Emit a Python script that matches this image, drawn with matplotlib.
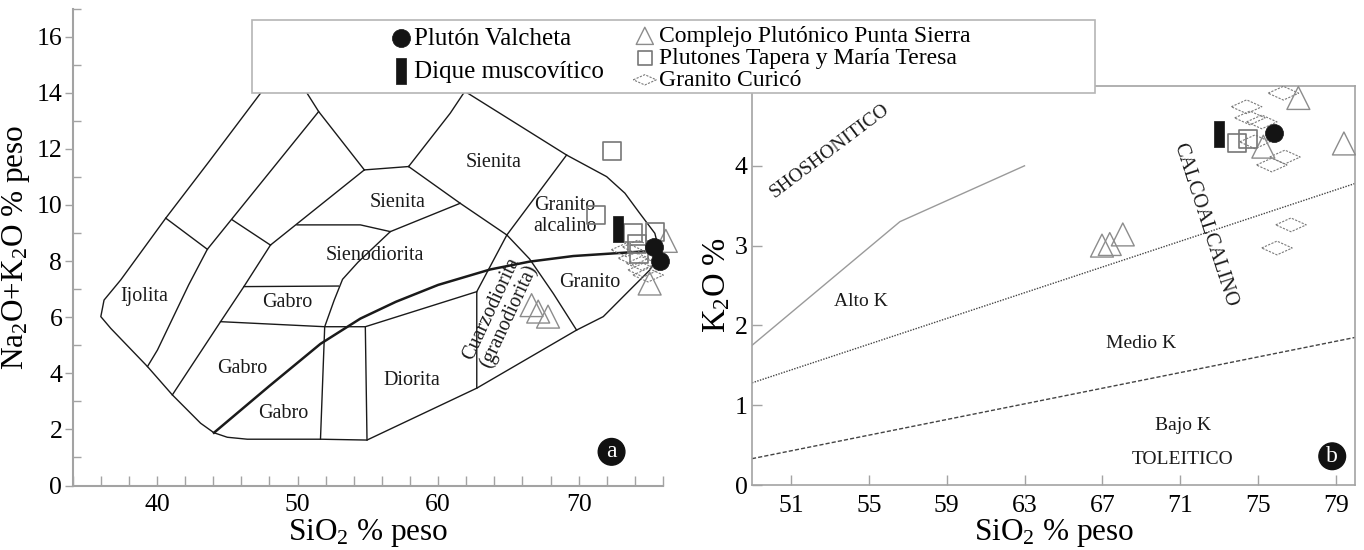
import numpy as np
import matplotlib
matplotlib.use('Agg')
import matplotlib.pyplot as plt
from matplotlib.patches import Rectangle
from matplotlib.ticker import MultipleLocator, FixedLocator

plt.rcParams['font.family'] = ['Liberation Serif', 'DejaVu Serif']
plt.rcParams['mathtext.fontset'] = 'custom'
plt.rcParams['mathtext.rm'] = 'Liberation Serif'
plt.rcParams['mathtext.it'] = 'Liberation Serif:italic'

# ---------------------------------------------------------------------------
# TAS diagram (a): field boundaries, SiO2 vs Na2O+K2O
# ---------------------------------------------------------------------------
tas_outer = [(47.9, 14.4), (47.36, 13.98), (43.69, 11.54), (40.62, 9.53), (37.42, 7.33),
             (36.23, 6.61), (36.0, 6.02), (36.71, 5.60), (39.32, 4.24), (41.09, 3.23),
             (43.10, 2.22), (44.05, 1.88), (45.0, 1.72), (46.42, 1.65), (51.63, 1.65),
             (54.94, 1.62), (62.75, 3.47), (69.85, 5.54), (71.75, 6.02), (73.88, 7.09),
             (75.06, 7.68), (75.77, 8.29), (75.42, 8.99), (74.35, 9.70), (73.29, 10.42),
             (71.99, 11.01), (69.14, 11.78), (61.9, 14.05)]
tas_lines = [
    [(40.62, 9.53), (43.58, 8.42)],
    [(50.4, 14.4), (50.68, 13.98), (51.5, 13.33), (43.58, 8.42), (42.25, 7.15),
     (40.03, 4.83), (39.32, 4.24)],
    [(51.5, 13.33), (54.75, 11.25)],
    [(54.75, 11.25), (57.9, 11.37)],
    [(57.9, 11.37), (60.86, 13.27), (61.9, 14.05)],
    [(54.75, 11.25), (48.07, 8.57)],
    [(45.35, 9.47), (48.07, 8.57)],
    [(48.07, 8.57), (46.18, 7.09), (44.52, 5.84), (41.09, 3.23)],
    [(46.18, 7.09), (52.9, 7.11)],
    [(49.96, 9.29), (54.47, 9.29), (56.6, 9.05), (61.57, 10.06)],
    [(57.9, 11.37), (61.57, 10.06), (64.89, 8.93)],
    [(56.6, 9.05), (54.3, 7.96), (53.2, 7.35), (52.6, 6.6), (51.93, 5.66), (51.63, 1.65)],
    [(44.52, 5.84), (51.93, 5.66), (54.82, 5.66), (62.75, 6.91)],
    [(54.82, 5.66), (54.94, 1.62)],
    [(64.89, 8.93), (62.75, 6.91), (62.75, 3.47)],
    [(69.14, 11.78), (64.89, 8.93)],
    [(64.89, 8.93), (66.5, 8.08), (68.2, 6.84), (69.85, 5.54)],
]
tas_divide = [(44.05, 1.88), (48.0, 3.55), (51.63, 5.05), (54.47, 5.95), (57.0, 6.55),
              (60.0, 7.15), (63.7, 7.7), (66.5, 7.98), (69.62, 8.18), (73.88, 8.32),
              (75.3, 8.36)]

tas_fields = ['Ijolita', 'Gabro', 'Sienodiorita', 'Sienita', 'Sienita', 'Granito\nalcalino',
              'Granito', 'Gabro', 'Gabro', 'Diorita']
tas_field_x = [39.1, 49.3, 55.5, 57.1, 63.95, 69.0, 70.8, 46.05, 48.95, 58.15]
tas_field_y = [6.72, 6.53, 8.21, 10.1, 11.5, 9.6, 7.24, 4.17, 2.55, 3.73]

# samples, diagram (a)
a_valcheta_x = [75.35, 75.82]
a_valcheta_y = [8.51, 8.0]
a_dique_x = [72.8]
a_dique_y = [9.15]
a_sierra_x = [66.65, 67.12, 67.82, 75.05, 76.2]
a_sierra_y = [6.43, 6.20, 6.02, 7.20, 8.72]
a_tapera_x = [72.34, 71.23, 73.88, 75.4, 74.16, 74.3]
a_tapera_y = [11.94, 9.64, 8.99, 9.05, 8.6, 8.25]
a_curico_x = [73.4, 73.9, 74.47, 74.59, 74.94, 74.2]
a_curico_y = [8.4, 8.1, 7.92, 7.68, 7.5, 8.5]

# ---------------------------------------------------------------------------
# K2O vs SiO2 diagram (b)
# ---------------------------------------------------------------------------
shosho_line_x = [49, 56.6, 63]
shosho_line_y = [1.75, 3.3, 4.0]
altok_line_x = [49, 80]
altok_line_y = [1.28, 3.78]
bajok_line_x = [49, 80]
bajok_line_y = [0.33, 1.85]

b_valcheta_x = [75.82]
b_valcheta_y = [4.41]
b_dique_x = [72.99]
b_dique_y = [4.40]
b_sierra_x = [66.98, 67.38, 68.05, 75.27, 77.07, 79.41]
b_sierra_y = [3.0, 3.02, 3.14, 4.24, 4.85, 4.28]
b_tapera_x = [73.9, 74.47]
b_tapera_y = [4.28, 4.33]
b_curico_x = [76.3, 74.41, 74.58, 75.19, 74.84, 76.38, 75.70, 76.69, 75.97]
b_curico_y = [4.91, 4.74, 4.60, 4.55, 4.30, 4.11, 4.01, 3.26, 2.97]

b_texts = ['Alto K', 'Medio K', 'Bajo K', 'TOLEITICO']
b_text_x = [54.6, 69.0, 71.13, 71.13]
b_text_y = [2.30, 1.77, 0.74, 0.32]

# marker shapes
bar_marker = [(-0.385, -1), (0.385, -1), (0.385, 1), (-0.385, 1), (-0.385, -1)]
diamond_marker = [(-1, 0), (0, 0.45), (1, 0), (0, -0.45), (-1, 0)]

W, H = 1364, 550
fig = plt.figure(figsize=(W / 100, H / 100), dpi=100)
fig.patch.set_facecolor('white')

spine_col = '#a3a3a3'
line_col = '#1a1a1a'


def draw_samples(ax, sets):
    hs = {}
    vx, vy, dx, dy, sx, sy, tx, ty, cx, cy = sets
    hs['c'] = ax.scatter(cx, cy, s=22 ** 2, marker=diamond_marker, facecolors='none',
                         edgecolors='#7a7a7a', linewidths=0.8, linestyles=(0, (2, 1.2)),
                         zorder=5, clip_on=False, label='Granito Curicó')
    hs['s'] = ax.scatter(sx, sy, s=16.5 ** 2, marker='^', facecolors='none',
                         edgecolors='#8c8c8c', linewidths=1.0, zorder=6, clip_on=False,
                         label='Complejo Plutónico Punta Sierra')
    hs['t'] = ax.scatter(tx, ty, s=13 ** 2, marker='s', facecolors='none',
                         edgecolors='#777777', linewidths=1.2, zorder=6, clip_on=False,
                         label='Plutones Tapera y María Teresa')
    hs['d'] = ax.scatter(dx, dy, s=19 ** 2, marker=bar_marker, facecolors='#141414',
                         edgecolors='#141414', linewidths=0.5, zorder=7, clip_on=False,
                         label='Dique muscovítico')
    hs['v'] = ax.scatter(vx, vy, s=13 ** 2, marker='o', facecolors='#141414',
                         edgecolors='#141414', linewidths=0.5, zorder=8, clip_on=False,
                         label='Plutón Valcheta')
    return hs


# ---------------------------- panel (a) ------------------------------------
ax1 = fig.add_axes([72.7 / W, (H - 485.5) / H, (663 - 72.7) / W, (485.5 - 8.6) / H])
ax1.set_xlim(34, 76)
ax1.set_ylim(0, 17)

ox, oy = zip(*tas_outer)
ax1.plot(ox, oy, color=line_col, lw=1.0, solid_joinstyle='round')
for seg in tas_lines:
    sx_, sy_ = zip(*seg)
    ax1.plot(sx_, sy_, color=line_col, lw=1.0)
dvx, dvy = zip(*tas_divide)
ax1.plot(dvx, dvy, color=line_col, lw=1.8, solid_joinstyle='round')

for name, x, y in zip(tas_fields, tas_field_x, tas_field_y):
    ax1.text(x, y, name, fontsize=14.5, ha='center', va='center', color='#1a1a1a',
             linespacing=1.15, zorder=3)
ax1.text(64.42, 6.16, 'Cuarzodiorita\n(granodiorita)', fontsize=14.5, rotation=65,
         ha='center', va='center', rotation_mode='anchor', linespacing=0.95,
         color='#1a1a1a', zorder=3)
ax1.text(72.34, 1.2, 'a', fontsize=17, color='white', ha='center', va='center',
         bbox=dict(boxstyle='circle,pad=0.12', fc='#111111', ec='#111111'))

draw_samples(ax1, (a_valcheta_x, a_valcheta_y, a_dique_x, a_dique_y, a_sierra_x,
                   a_sierra_y, a_tapera_x, a_tapera_y, a_curico_x, a_curico_y))

for side in ['top', 'right']:
    ax1.spines[side].set_visible(False)
for side in ['left', 'bottom']:
    ax1.spines[side].set_color(spine_col)
    ax1.spines[side].set_linewidth(1.5)
ax1.xaxis.set_major_locator(FixedLocator([40, 50, 60, 70]))
ax1.xaxis.set_minor_locator(MultipleLocator(2))
ax1.yaxis.set_minor_locator(MultipleLocator(1))
ax1.set_yticks(range(0, 17, 2))
ax1.tick_params(axis='x', which='both', direction='in', length=7.5, width=1.0,
                color=spine_col, labelsize=18.5, pad=6)
ax1.tick_params(axis='y', which='major', direction='out', length=6, width=1.0,
                color=spine_col, labelsize=18.5, pad=1.5)
ax1.tick_params(axis='y', which='minor', direction='in', length=6, width=1.0,
                color=spine_col)
ax1.set_xlabel('SiO$_2$ % peso', fontsize=22.5, labelpad=1)
ax1.set_ylabel('Na$_2$O+K$_2$O % peso', fontsize=22.5, labelpad=3)

# ---------------------------- panel (b) ------------------------------------
ax2 = fig.add_axes([752 / W, (H - 485) / H, (1355.4 - 752) / W, (485 - 86) / H])
ax2.set_xlim(49, 80)
ax2.set_ylim(0, 5)

ax2.plot(shosho_line_x, shosho_line_y, color='#9a9a9a', lw=1.0)
ax2.plot(altok_line_x, altok_line_y, color='#444444', lw=1.0, ls=(0, (1, 1)))
ax2.plot(bajok_line_x, bajok_line_y, color='#444444', lw=1.0, ls=(0, (3, 1.5)))

for name, x, y in zip(b_texts, b_text_x, b_text_y):
    ax2.text(x, y, name, fontsize=14, ha='center', va='center', color='#1a1a1a')
ax2.text(52.97, 4.19, 'SHOSHONITICO', fontsize=14, rotation=37, ha='center',
         va='center', rotation_mode='anchor', color='#1a1a1a')
ax2.text(72.26, 3.26, 'CALCOALCALINO', fontsize=14.5, rotation=-72, ha='center',
         va='center', rotation_mode='anchor', color='#1a1a1a')
ax2.text(78.81, 0.36, 'b', fontsize=17, color='white', ha='center', va='center',
         bbox=dict(boxstyle='circle,pad=0.12', fc='#111111', ec='#111111'))

hs = draw_samples(ax2, (b_valcheta_x, b_valcheta_y, b_dique_x, b_dique_y, b_sierra_x,
                        b_sierra_y, b_tapera_x, b_tapera_y, b_curico_x, b_curico_y))

for side in ax2.spines:
    ax2.spines[side].set_color(spine_col)
    ax2.spines[side].set_linewidth(1.2)
ax2.set_xticks(range(51, 80, 4))
ax2.set_yticks(range(0, 5))
ax2.tick_params(axis='both', which='major', direction='in', length=7, width=1.0,
                color=spine_col, labelsize=18.5)
ax2.tick_params(axis='x', pad=7)
ax2.tick_params(axis='y', pad=3)
ax2.set_xlabel('SiO$_2$ % peso', fontsize=22.5, labelpad=0)
ax2.set_ylabel('K$_2$O %', fontsize=23.5, labelpad=2)

# ---------------------------- legend ---------------------------------------
box = Rectangle((252 / W, (H - 93) / H), (1095 - 252) / W, (93 - 20) / H,
                transform=fig.transFigure, facecolor='white', edgecolor='#b5b5b5',
                lw=1.2, zorder=4)
fig.add_artist(box)
leg1 = fig.legend(handles=[hs['v'], hs['d']], loc='upper left',
                  bbox_to_anchor=(388 / W, (H - 27.5) / H), frameon=False,
                  fontsize=18, handlelength=1.0, handletextpad=0.05, borderpad=0,
                  borderaxespad=0, labelspacing=0.42, scatterpoints=1)
leg1.set_zorder(5)
leg2 = fig.legend(handles=[hs['s'], hs['t'], hs['c']], loc='upper left',
                  bbox_to_anchor=(633 / W, (H - 25.5) / H), frameon=False,
                  fontsize=17, handlelength=1.0, handletextpad=0.12, borderpad=0,
                  borderaxespad=0, labelspacing=0.02, scatterpoints=1, markerscale=0.75)
leg2.set_zorder(5)

fig.savefig('out.png', dpi=100, facecolor='white')
